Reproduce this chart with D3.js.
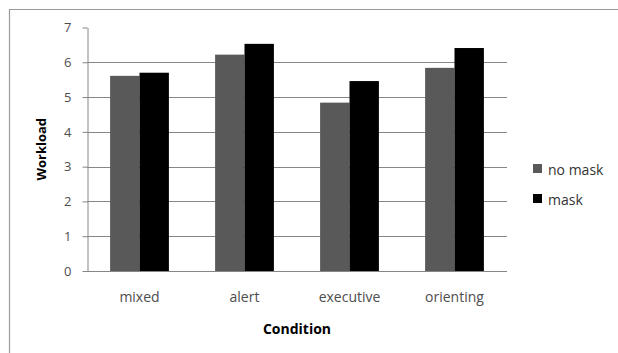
<!DOCTYPE html>
<html>
<head>
<meta charset="utf-8">
<script src="https://cdn.jsdelivr.net/npm/d3@7"></script>
<style>
  html, body { margin: 0; padding: 0; background: #fff; }
  svg { display: block; }
  text { font-family: "Open Sans", "Liberation Sans", sans-serif; }
</style>
</head>
<body>
<svg id="chart" width="618" height="353"></svg>
<script>
// Workload by condition, with and without mask
const categories = ["mixed", "alert", "executive", "orienting"];
const seriesNames = ["no mask", "mask"];
const noMask = [5.61, 6.22, 4.84, 5.84];
const mask = [5.70, 6.53, 5.46, 6.41];
const yTicks = [0, 1, 2, 3, 4, 5, 6, 7];
const seriesColors = ["#595959", "#000000"];

const seriesValues = [noMask, mask];
const rows = categories.map((c, i) => ({
  category: c,
  values: seriesNames.map((s, j) => ({ series: s, value: seriesValues[j][i] }))
}));

const svg = d3.select("#chart");
const W = 618, H = 353;
const plot = { left: 87, right: 507, top: 27.5, bottom: 271 };

// outer frame
svg.append("path")
  .attr("d", `M9.5,${H + 2}V9.5H${W + 2}`)
  .attr("fill", "none")
  .attr("stroke", "#9a9a9a")
  .attr("stroke-width", 1.2);

const x0 = d3.scaleBand()
  .domain(categories)
  .range([plot.left, plot.right])
  .paddingInner(0.44)
  .paddingOuter(0.22);

const x1 = d3.scaleBand()
  .domain(seriesNames)
  .range([0, x0.bandwidth()]);

const y = d3.scaleLinear()
  .domain([0, 7])
  .range([plot.bottom, plot.top]);

const color = d3.scaleOrdinal().domain(seriesNames).range(seriesColors);

// horizontal gridlines
svg.append("g")
  .selectAll("line")
  .data(yTicks.filter(t => t > 0 && t < 7))
  .join("line")
  .attr("x1", plot.left)
  .attr("x2", plot.right)
  .attr("y1", d => Math.round(y(d)) + 0.5)
  .attr("y2", d => Math.round(y(d)) + 0.5)
  .attr("stroke", "#868686")
  .attr("stroke-width", 1);

// bars
svg.append("g")
  .selectAll("g")
  .data(rows)
  .join("g")
  .attr("transform", d => `translate(${x0(d.category)},0)`)
  .selectAll("rect")
  .data(d => d.values)
  .join("rect")
  .attr("x", d => x1(d.series))
  .attr("width", x1.bandwidth())
  .attr("y", d => y(d.value))
  .attr("height", d => y(0) - y(d.value))
  .attr("fill", d => color(d.series));

// y axis
const yAxis = svg.append("g")
  .attr("transform", `translate(${plot.left + 0.5},0)`)
  .call(d3.axisLeft(y).tickValues(yTicks).tickFormat(d3.format("d"))
    .tickSize(5).tickSizeOuter(0).tickPadding(11));
yAxis.select(".domain").attr("stroke", "#868686");
yAxis.selectAll(".tick line").attr("stroke", "#868686");
yAxis.selectAll(".tick text")
  .attr("fill", "#4d4d4d")
  .style("font-size", "13px");

// x axis baseline
svg.append("line")
  .attr("x1", plot.left)
  .attr("x2", plot.right)
  .attr("y1", Math.round(y(0)) + 0.5)
  .attr("y2", Math.round(y(0)) + 0.5)
  .attr("stroke", "#868686");

// category labels
svg.append("g")
  .selectAll("text")
  .data(categories)
  .join("text")
  .attr("x", d => x0(d) + x0.bandwidth() / 2)
  .attr("y", 302)
  .attr("text-anchor", "middle")
  .attr("fill", "#4d4d4d")
  .style("font-size", "14px")
  .text(d => d);

// axis titles
svg.append("text")
  .attr("x", 297)
  .attr("y", 334)
  .attr("text-anchor", "middle")
  .attr("fill", "#000")
  .style("font-size", "14px")
  .style("font-weight", "bold")
  .text("Condition");

svg.append("text")
  .attr("transform", `translate(46,${(plot.top + plot.bottom) / 2}) rotate(-90)`)
  .attr("text-anchor", "middle")
  .attr("fill", "#000")
  .style("font-size", "13px")
  .style("font-weight", "bold")
  .text("Workload");

// legend
const legend = svg.append("g")
  .selectAll("g")
  .data(seriesNames)
  .join("g")
  .attr("transform", (d, i) => `translate(533,${164 + i * 30})`);
legend.append("rect")
  .attr("width", 9)
  .attr("height", 9)
  .attr("fill", d => color(d));
legend.append("text")
  .attr("x", 15)
  .attr("y", 11)
  .attr("fill", "#333")
  .style("font-size", "14px")
  .text(d => d);
</script>
</body>
</html>
